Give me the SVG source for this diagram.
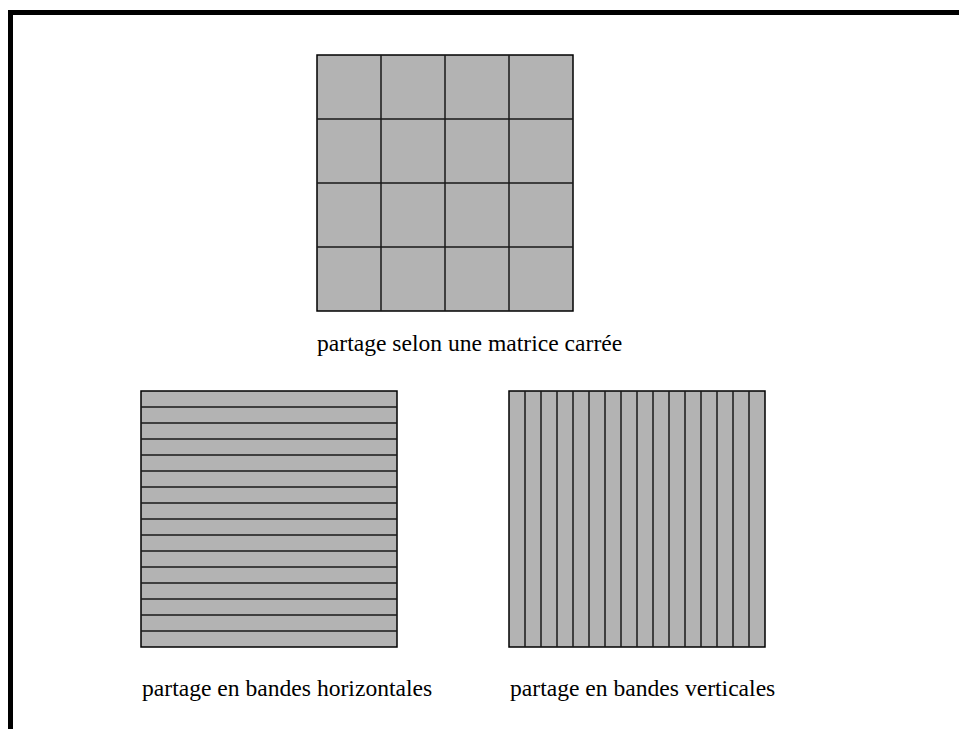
<svg xmlns="http://www.w3.org/2000/svg" width="959" height="729" viewBox="0 0 959 729">
<style>
.cell{fill:#b3b3b3;stroke:#000;stroke-width:1.5}
.grid{stroke:#1a1a1a;stroke-width:1.5;fill:none}
.lbl{font-family:"Liberation Serif",serif;font-size:23.6px;fill:#000}
</style>
<rect width="959" height="729" fill="#fff"/>
<path d="M10.5,729 V12.5 H959" fill="none" stroke="#000" stroke-width="5"/>
<g id="matrice">
<rect class="cell" x="317" y="55" width="256" height="256"/>
<path class="grid" d="M381,55V311M445,55V311M509,55V311M317,119H573M317,183H573M317,247H573"/>
<text class="lbl" x="317" y="351">partage selon une matrice carrée</text>
</g>
<g id="horizontales">
<rect class="cell" x="141" y="391" width="256" height="256"/>
<path class="grid" d="M141,407H397M141,423H397M141,439H397M141,455H397M141,471H397M141,487H397M141,503H397M141,519H397M141,535H397M141,551H397M141,567H397M141,583H397M141,599H397M141,615H397M141,631H397"/>
<text class="lbl" x="142" y="696">partage en bandes horizontales</text>
</g>
<g id="verticales">
<rect class="cell" x="509" y="391" width="256" height="256"/>
<path class="grid" d="M525,391V647M541,391V647M557,391V647M573,391V647M589,391V647M605,391V647M621,391V647M637,391V647M653,391V647M669,391V647M685,391V647M701,391V647M717,391V647M733,391V647M749,391V647"/>
<text class="lbl" x="510" y="696">partage en bandes verticales</text>
</g>
</svg>
